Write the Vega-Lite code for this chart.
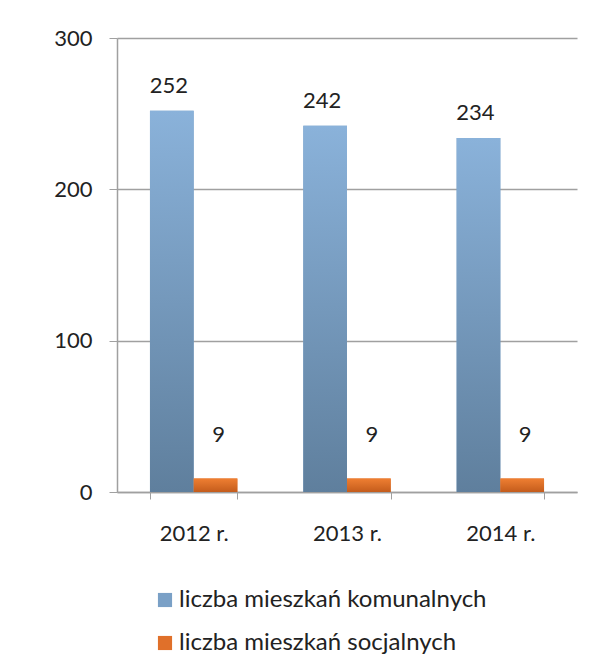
{
  "$schema": "https://vega.github.io/schema/vega-lite/v6.json",
  "autosize": {"type": "none"},
  "width": 460,
  "height": 454,
  "padding": {"left": 117, "top": 38, "right": 17, "bottom": 179},
  "background": "white",
  "config": {
    "font": "Lato",
    "view": {"stroke": null},
    "axis": {"labelFont": "Lato", "labelFontSize": 22, "labelColor": "#222222", "domainColor": "#a0a0a0", "tickColor": "#a0a0a0", "gridColor": "#a0a0a0", "title": null}
  },
  "data": {
    "values": [
      {"year": "2012 r.", "series": "liczba mieszkań komunalnych", "value": 252},
      {"year": "2012 r.", "series": "liczba mieszkań socjalnych", "value": 9},
      {"year": "2013 r.", "series": "liczba mieszkań komunalnych", "value": 242},
      {"year": "2013 r.", "series": "liczba mieszkań socjalnych", "value": 9},
      {"year": "2014 r.", "series": "liczba mieszkań komunalnych", "value": 234},
      {"year": "2014 r.", "series": "liczba mieszkań socjalnych", "value": 9}
    ]
  },
  "encoding": {
    "x": {
      "field": "year", "type": "nominal",
      "scale": {"paddingInner": 0.43, "paddingOuter": 0.215},
      "axis": {"labelAngle": 0, "tickBand": "extent", "tickSize": 7, "labelPadding": 24, "grid": false, "domainWidth": 1.5}
    },
    "xOffset": {"field": "series", "type": "nominal", "sort": ["liczba mieszkań komunalnych", "liczba mieszkań socjalnych"], "scale": {"paddingInner": 0, "paddingOuter": 0}},
    "y": {
      "field": "value", "type": "quantitative", "stack": null,
      "scale": {"domain": [0, 300], "nice": false},
      "axis": {"values": [0, 100, 200, 300], "grid": true, "tickSize": 8, "labelPadding": 17, "domainWidth": 1.5, "gridWidth": 1.5}
    }
  },
  "layer": [
    {
      "mark": {"type": "bar"},
      "encoding": {
        "color": {
          "field": "series", "type": "nominal",
          "scale": {"domain": ["liczba mieszkań komunalnych", "liczba mieszkań socjalnych"], "range": ["#7aa0c6", "#e0702a"]},
          "legend": {
            "title": null, "orient": "none", "legendX": 36, "legendY": 550,
            "direction": "vertical", "symbolType": "square", "symbolSize": 200,
            "symbolStrokeWidth": 0, "labelFont": "Lato", "labelFontSize": 24, "labelColor": "#222222",
            "labelOffset": 2, "labelLimit": 0, "rowPadding": 19, "padding": 0
          }
        }
      }
    },
    {
      "transform": [{"filter": "datum.series === 'liczba mieszkań komunalnych'"}],
      "mark": {"type": "bar", "color": {"gradient": "linear", "x1": 0, "y1": 0, "x2": 0, "y2": 1, "stops": [{"offset": 0, "color": "#8ab2da"}, {"offset": 1, "color": "#5f7f9d"}]}}
    },
    {
      "transform": [{"filter": "datum.series === 'liczba mieszkań socjalnych'"}],
      "mark": {"type": "bar", "color": {"gradient": "linear", "x1": 0, "y1": 0, "x2": 0, "y2": 1, "stops": [{"offset": 0, "color": "#ef7f32"}, {"offset": 1, "color": "#c45c1c"}]}}
    },
    {
      "transform": [{"filter": "datum.series === 'liczba mieszkań komunalnych'"}],
      "mark": {"type": "text", "font": "Lato", "fontSize": 22, "color": "#222222", "baseline": "alphabetic", "dy": -18, "dx": -3},
      "encoding": {"text": {"field": "value", "type": "quantitative"}}
    },
    {
      "transform": [{"filter": "datum.series === 'liczba mieszkań socjalnych'"}],
      "mark": {"type": "text", "font": "Lato", "fontSize": 22, "color": "#222222", "baseline": "alphabetic", "dy": -36, "dx": 3},
      "encoding": {"text": {"field": "value", "type": "quantitative"}}
    }
  ]
}
